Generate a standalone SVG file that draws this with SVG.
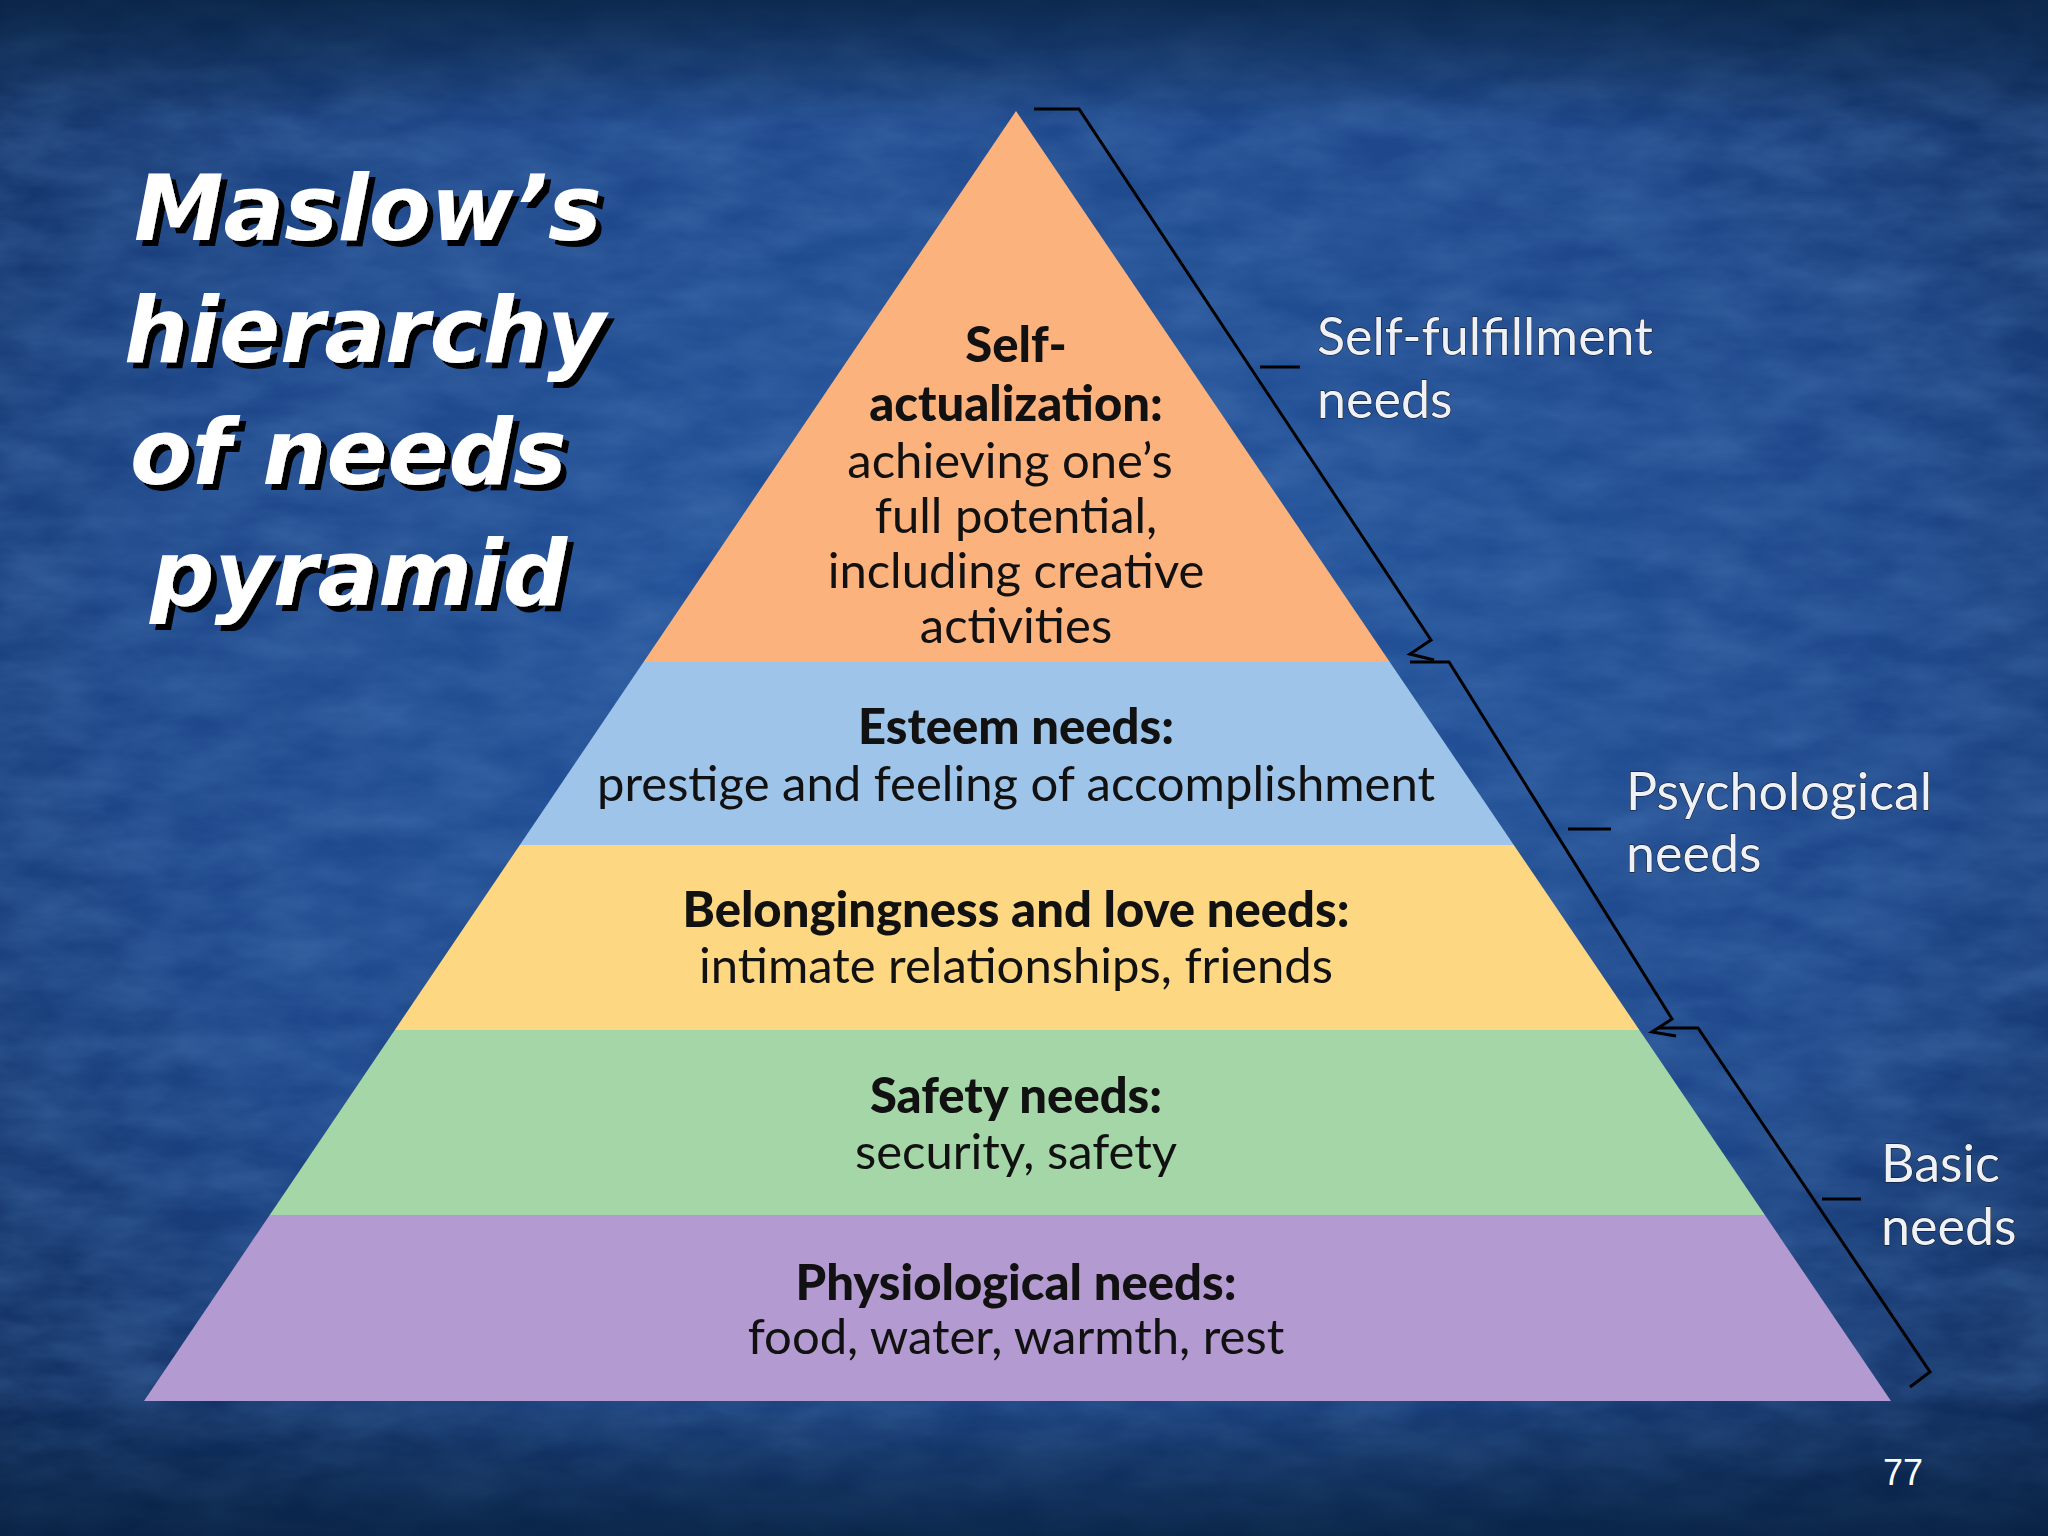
<svg xmlns="http://www.w3.org/2000/svg" width="2048" height="1536" viewBox="0 0 2048 1536">
<defs>
<radialGradient id="bg" cx="0.5" cy="0.45" r="0.75">
<stop offset="0" stop-color="#2556a0"/><stop offset="0.6" stop-color="#1d4688"/><stop offset="1" stop-color="#0c2550"/>
</radialGradient>
<linearGradient id="edge" x1="0" y1="0" x2="0" y2="1">
<stop offset="0" stop-color="#06203f" stop-opacity="0.8"/><stop offset="0.08" stop-color="#06203f" stop-opacity="0"/>
<stop offset="0.9" stop-color="#06203f" stop-opacity="0"/><stop offset="1" stop-color="#06203f" stop-opacity="0.8"/>
</linearGradient>
<filter id="noise"><feTurbulence type="fractalNoise" baseFrequency="0.012 0.03" numOctaves="4" seed="3"/><feColorMatrix type="matrix" values="0 0 0 0 0.1 0 0 0 0 0.25 0 0 0 0 0.55 0 0 0 0.5 -0.1"/></filter>
<filter id="shadow" x="-10%" y="-30%" width="130%" height="160%"><feDropShadow dx="6" dy="6" stdDeviation="0.5" flood-color="#000" flood-opacity="1"/></filter>
<clipPath id="tri"><polygon points="1016,111 144,1401 1891,1401"/></clipPath>
<style>
.t{font-family:"DejaVu Sans",sans-serif;font-weight:bold;font-style:italic;font-size:90px;fill:#fff;filter:url(#shadow)}
.b{font-family:"Lato","DejaVu Sans",sans-serif;font-weight:900;font-size:49px;fill:#111;text-anchor:middle}
.n{font-family:"Lato","DejaVu Sans",sans-serif;font-size:49px;fill:#111;text-anchor:middle}
.r{font-family:"Lato","DejaVu Sans",sans-serif;font-weight:normal;font-size:52px;fill:#eef2f8;stroke:#111;stroke-width:1;paint-order:stroke}
.br{fill:none;stroke:#000;stroke-width:3}
</style>
</defs>
<rect width="2048" height="1536" fill="url(#bg)"/>
<rect width="2048" height="1536" filter="url(#noise)"/>
<rect width="2048" height="1536" fill="url(#edge)"/>
<g id="title">
<text class="t" x="134" y="240">Maslow’s</text>
<text class="t" x="124" y="362">hierarchy</text>
<text class="t" x="130" y="484">of needs</text>
<text class="t" x="150" y="605">pyramid</text>
</g>
<g id="pyramid" clip-path="url(#tri)">
<rect x="0" y="100" width="2048" height="562" fill="#fbb27d"/>
<rect x="0" y="662" width="2048" height="183" fill="#9ec4ea"/>
<rect x="0" y="845" width="2048" height="185" fill="#fdd782"/>
<rect x="0" y="1030" width="2048" height="185" fill="#a5d6a7"/>
<rect x="0" y="1215" width="2048" height="190" fill="#b39ad0"/>
</g>
<g id="level-self">
<text class="b" x="1016" y="362">Self-</text>
<text class="b" x="1016" y="421">actualization:</text>
<text class="n" x="1010" y="478">achieving one’s</text>
<text class="n" x="1016" y="533">full potential,</text>
<text class="n" x="1016" y="588">including creative</text>
<text class="n" x="1016" y="643">activities</text>
</g>
<g id="level-esteem"><text class="b" x="1016" y="744">Esteem needs:</text><text class="n" x="1016" y="801">prestige and feeling of accomplishment</text></g>
<g id="level-belonging"><text class="b" x="1016" y="927">Belongingness and love needs:</text><text class="n" x="1016" y="983">intimate relationships, friends</text></g>
<g id="level-safety"><text class="b" x="1016" y="1113">Safety needs:</text><text class="n" x="1016" y="1169">security, safety</text></g>
<g id="level-physio"><text class="b" x="1016" y="1300">Physiological needs:</text><text class="n" x="1016" y="1354">food, water, warmth, rest</text></g>
<g id="connectors">
<path class="br" d="M1034,109 H1079 L1431,640 L1410,654 L1434,660"/>
<path class="br" d="M1410,662 H1449 L1672,1019 L1652,1032 L1676,1036"/>
<path class="br" d="M1658,1028 H1698 L1930,1372 L1910,1387"/>
<path class="br" d="M1260,367 H1300"/>
<path class="br" d="M1568,829 H1611"/>
<path class="br" d="M1822,1199 H1861"/>
</g>
<g id="labels">
<text class="r" x="1317" y="355">Self-fulfillment</text><text class="r" x="1317" y="418">needs</text>
<text class="r" x="1626" y="810">Psychological</text><text class="r" x="1626" y="872">needs</text>
<text class="r" x="1881" y="1182">Basic</text><text class="r" x="1881" y="1245">needs</text>
<text x="1903" y="1485" font-family="Liberation Sans,sans-serif" font-size="36" fill="#fff" text-anchor="middle">77</text>
</g>
</svg>
